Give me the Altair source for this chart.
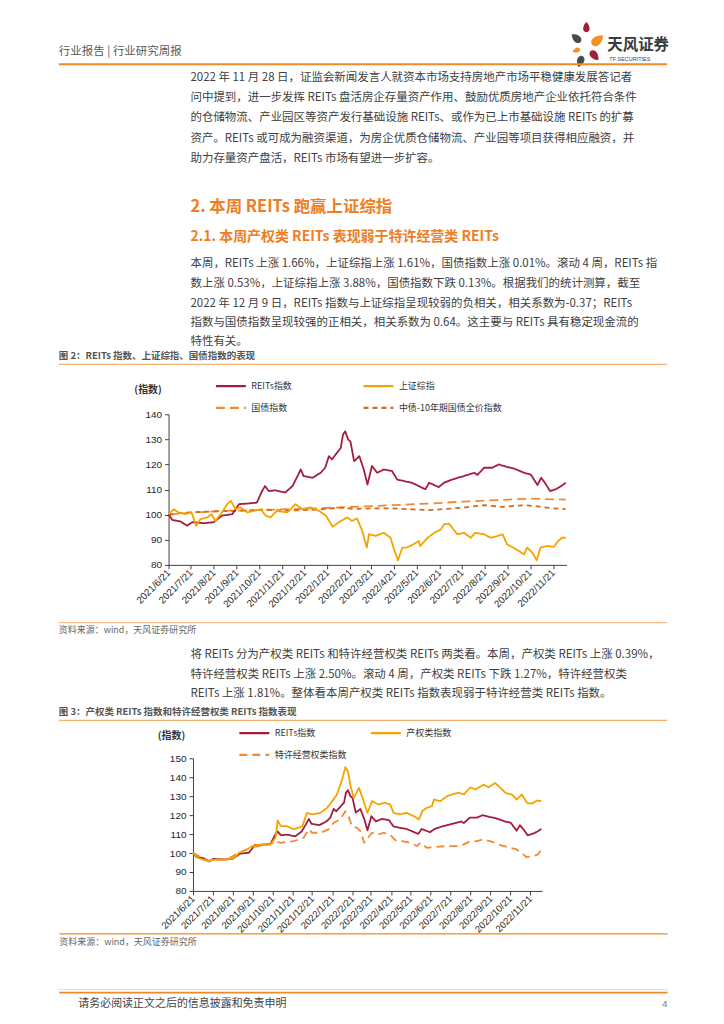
import altair as alt
import pandas as pd
from datetime import date

CJK = "Noto Sans CJK SC"
LAT = "Liberation Sans"
BODY = "#404040"
ORANGE = "#EF7D21"
RULE = "#F0892A"
LIGHT = "#F6B070"

# ---------------- data ----------------
reits_dates = ["2021-06-21","2021-06-26","2021-07-07","2021-07-16","2021-07-23","2021-08-08","2021-08-21",
               "2021-09-01","2021-09-15","2021-09-24","2021-10-05","2021-10-18","2021-10-25","2021-10-29",
               "2021-11-03","2021-11-12","2021-11-25","2021-12-05","2021-12-14","2021-12-16","2021-12-20",
               "2022-01-01","2022-01-12","2022-01-18","2022-01-23","2022-01-27","2022-02-08","2022-02-11",
               "2022-02-14","2022-02-18","2022-02-21","2022-02-26","2022-03-05","2022-03-11","2022-03-16",
               "2022-03-22","2022-03-29","2022-04-07","2022-04-18","2022-04-25","2022-05-04","2022-05-15",
               "2022-05-24","2022-06-02","2022-06-07","2022-06-20","2022-06-27","2022-07-08","2022-07-24",
               "2022-08-07","2022-08-11","2022-08-20","2022-08-31","2022-09-09","2022-09-20","2022-09-29",
               "2022-10-13","2022-10-22","2022-10-31","2022-11-05","2022-11-10","2022-11-17","2022-11-26",
               "2022-12-02","2022-12-08"]
reits_vals = [100.2,97.9,97.3,95.6,97.0,96.6,97.0,99.6,100.2,104.2,104.4,104.8,109.4,111.4,109.4,109.7,108.8,
              111.4,116.7,118.0,115.4,114.7,116.7,118.7,123.3,122.0,126.6,131.9,133.2,129.9,129.2,121.3,123.3,
              118.0,112.0,119.4,116.7,118.0,117.4,114.0,113.4,112.7,111.4,110.1,112.7,111.0,112.7,114.0,115.4,
              116.7,115.8,118.7,118.7,120.0,119.0,118.4,116.7,116.0,111.8,114.7,112.7,109.4,110.3,111.4,112.7]

sh_dates = ["2021-06-21","2021-06-28","2021-07-04","2021-07-13","2021-07-22","2021-07-28","2021-08-03",
            "2021-08-12","2021-08-18","2021-08-23","2021-09-01","2021-09-08","2021-09-13","2021-09-19",
            "2021-09-26","2021-10-05","2021-10-14","2021-10-23","2021-10-30","2021-11-05","2021-11-14",
            "2021-11-28","2021-12-09","2021-12-18","2021-12-29","2022-01-10","2022-01-19","2022-01-28",
            "2022-02-08","2022-02-17","2022-02-23","2022-03-02","2022-03-09","2022-03-15","2022-03-18",
            "2022-03-27","2022-04-07","2022-04-16","2022-04-20","2022-04-26","2022-05-02","2022-05-08",
            "2022-05-17","2022-05-24","2022-05-26","2022-06-05","2022-06-14","2022-06-23","2022-06-27",
            "2022-07-04","2022-07-08","2022-07-15","2022-07-24","2022-08-02","2022-08-08","2022-08-20",
            "2022-08-29","2022-09-07","2022-09-14","2022-09-20","2022-10-02","2022-10-13","2022-10-17",
            "2022-10-24","2022-10-30","2022-11-04","2022-11-13","2022-11-22","2022-11-28","2022-12-03",
            "2022-12-08"]
sh_vals = [100.2,102.2,100.9,100.2,100.9,95.6,98.2,98.9,100.2,97.5,100.9,104.2,105.5,102.2,102.9,100.9,101.5,
           102.2,99.6,98.9,101.5,100.9,104.2,102.2,102.9,101.5,99.6,95.2,97.5,98.9,97.5,98.5,93.5,86.9,92.2,
           91.5,92.8,90.8,86.9,81.8,86.9,86.9,88.2,89.5,87.5,90.8,92.8,94.1,96.2,96.4,94.8,92.2,92.8,90.8,
           92.8,92.2,90.8,91.5,92.2,88.2,86.2,84.2,86.9,84.9,81.8,86.9,87.5,87.2,89.5,90.8,90.8]

gz_dates = ["2021-06-21","2021-07-21","2021-09-05","2021-12-18","2022-03-05","2022-04-20","2022-06-05",
            "2022-07-23","2022-09-07","2022-10-21","2022-12-08"]
gz_vals = [100.0,100.8,101.5,102.3,103.2,103.8,104.4,105.2,105.8,106.4,106.0]

zz_dates = ["2021-06-21","2021-07-11","2021-08-20","2021-09-28","2021-10-29","2021-11-28","2022-01-07",
            "2022-02-06","2022-02-26","2022-03-23","2022-04-17","2022-05-17","2022-06-06","2022-07-01",
            "2022-07-26","2022-08-20","2022-09-14","2022-10-14","2022-11-03","2022-11-18","2022-12-08"]
zz_vals = [100.0,100.8,101.3,101.6,102.0,101.6,102.0,102.8,102.3,102.5,102.5,102.1,101.8,102.3,102.9,103.8,
           103.1,103.8,103.2,102.6,102.2]

cq_dates = ["2021-06-21","2021-06-28","2021-07-13","2021-07-28","2021-08-12","2021-08-23","2021-08-31",
            "2021-09-12","2021-09-20","2021-10-03","2021-10-18","2021-10-26","2021-10-29","2021-11-03",
            "2021-11-12","2021-11-23","2021-12-06","2021-12-13","2021-12-21","2022-01-03","2022-01-13",
            "2022-01-21","2022-01-28","2022-02-05","2022-02-10","2022-02-14","2022-02-18","2022-02-23",
            "2022-03-03","2022-03-10","2022-03-16","2022-03-23","2022-04-02","2022-04-12","2022-04-20",
            "2022-04-25","2022-05-05","2022-05-15","2022-05-26","2022-06-03","2022-06-08","2022-06-15",
            "2022-06-23","2022-06-26","2022-07-06","2022-07-16","2022-07-24","2022-08-03","2022-08-11",
            "2022-08-21","2022-08-29","2022-09-10","2022-09-18","2022-09-28","2022-10-06","2022-10-14",
            "2022-10-24","2022-10-31","2022-11-08","2022-11-16","2022-11-23","2022-12-01","2022-12-08"]
cq_vals = [100.2,97.5,95.8,96.7,96.5,97.5,100.2,101.9,103.7,104.6,104.6,108.1,117.2,114.2,114.2,112.5,114.2,
           121.2,120.4,121.2,123.9,127.4,130.9,138.8,145.3,143.2,135.3,129.1,134.4,127.4,121.2,127.4,125.6,
           126.5,125.6,121.2,120.4,121.2,119.5,117.7,122.1,123.9,124.7,128.2,127.4,130.0,130.9,131.8,130.9,
           134.7,133.5,136.1,134.7,137.0,134.4,131.8,130.9,128.2,130.9,126.5,126.0,127.7,127.4]

tx_dates = ["2021-06-21","2021-07-13","2021-08-12","2021-08-31","2021-09-20","2021-10-18","2021-10-26",
            "2021-11-02","2021-11-23","2021-12-08","2021-12-16","2021-12-21","2022-01-03","2022-01-15",
            "2022-01-23","2022-02-02","2022-02-10","2022-02-15","2022-02-20","2022-02-28","2022-03-05",
            "2022-03-11","2022-03-19","2022-03-23","2022-04-02","2022-04-10","2022-04-20","2022-04-28",
            "2022-05-08","2022-05-21","2022-05-31","2022-06-05","2022-06-15","2022-06-30","2022-07-16",
            "2022-08-03","2022-08-11","2022-08-21","2022-08-31","2022-09-10","2022-09-23","2022-10-06",
            "2022-10-21","2022-10-31","2022-11-10","2022-11-15","2022-11-26","2022-12-03","2022-12-08"]
tx_vals = [100.2,95.8,96.7,100.2,103.2,104.6,106.3,105.4,106.3,108.1,112.5,110.7,110.7,112.5,116.0,117.7,
           122.1,119.5,114.2,113.3,111.6,105.4,109.0,110.7,109.8,110.7,109.5,106.7,106.3,105.4,103.7,105.4,
           102.8,103.2,103.7,103.7,104.6,106.3,106.3,107.2,106.0,104.2,102.8,101.9,99.3,97.9,98.4,99.3,101.9]

tick_dates = ["2021-06-21","2021-07-21","2021-08-21","2021-09-21","2021-10-21","2021-11-21","2021-12-21",
              "2022-01-21","2022-02-21","2022-03-21","2022-04-21","2022-05-21","2022-06-21","2022-07-21",
              "2022-08-21","2022-09-21","2022-10-21","2022-11-21"]
x_domain = ["2021-06-21", "2022-12-09"]
y1_ticks = [80, 90, 100, 110, 120, 130, 140]
y2_ticks = [80, 90, 100, 110, 120, 130, 140, 150]

# legend order (entries fill the legend column by column)
names1 = ["REITs指数", "国债指数", "上证综指", "中债-10年期国债全价指数"]
colors1 = ["#A31D3D", "#F28A30", "#F5A300", "#D5691F"]
dashes1 = [[1, 0], [9, 5], [1, 0], [5, 4]]
names2 = ["REITs指数", "特许经营权类指数", "产权类指数"]
colors2 = ["#A31D3D", "#F28A30", "#F5A300"]
dashes2 = [[1, 0], [8, 5], [1, 0]]

para1 = ["2022 年 11 月 28 日，证监会新闻发言人就资本市场支持房地产市场平稳健康发展答记者",
         "问中提到，进一步发挥 REITs 盘活房企存量资产作用、鼓励优质房地产企业依托符合条件",
         "的仓储物流、产业园区等资产发行基础设施 REITs、或作为已上市基础设施 REITs 的扩募",
         "资产。REITs 或可成为融资渠道，为房企优质仓储物流、产业园等项目获得相应融资，并",
         "助力存量资产盘活，REITs 市场有望进一步扩容。"]
para2 = ["本周，REITs 上涨 1.66%，上证综指上涨 1.61%，国债指数上涨 0.01%。滚动 4 周，REITs 指",
         "数上涨 0.53%，上证综指上涨 3.88%，国债指数下跌 0.13%。根据我们的统计测算，截至",
         "2022 年 12 月 9 日，REITs 指数与上证综指呈现较弱的负相关，相关系数为-0.37；REITs",
         "指数与国债指数呈现较强的正相关，相关系数为 0.64。这主要与 REITs 具有稳定现金流的",
         "特性有关。"]
para3 = ["将 REITs 分为产权类 REITs 和特许经营权类 REITs 两类看。本周，产权类 REITs 上涨 0.39%，",
         "特许经营权类 REITs 上涨 2.50%。滚动 4 周，产权类 REITs 下跌 1.27%，特许经营权类",
         "REITs 上涨 1.81%。整体看本周产权类 REITs 指数表现弱于特许经营类 REITs 指数。"]


def dt(s):
    d = date.fromisoformat(s)
    return alt.DateTime(year=d.year, month=d.month, date=d.day, utc=True)


def long_df(names, pairs):
    frames = [pd.DataFrame({"date": d, "value": v, "series": n}) for n, (d, v) in zip(names, pairs)]
    return pd.concat(frames, ignore_index=True)


# data order = drawing order (later series on top)
df1 = long_df(["国债指数", "中债-10年期国债全价指数", "REITs指数", "上证综指"],
              [(gz_dates, gz_vals), (zz_dates, zz_vals), (reits_dates, reits_vals), (sh_dates, sh_vals)])
df2 = long_df(["REITs指数", "特许经营权类指数", "产权类指数"],
              [(reits_dates, reits_vals), (tx_dates, tx_vals), (cq_dates, cq_vals)])

DUMMY = pd.DataFrame({"k": [0]})
BODY_FS = 11.5


def txt(x, y, s, size=BODY_FS, color=BODY, weight="normal", font=CJK, align="left"):
    return alt.Chart(DUMMY).mark_text(text=s, fontSize=size, color=color, fontWeight=weight, font=font,
                                      align=align, baseline="middle").encode(x=alt.value(x), y=alt.value(y))


def hline(x1, x2, y, color, w):
    return alt.Chart(DUMMY).mark_rule(color=color, strokeWidth=w).encode(
        x=alt.value(x1), x2=alt.value(x2), y=alt.value(y), y2=alt.value(y))


PETAL = "M0,-1C0.6,-0.4 0.75,0.35 0.4,0.72C0.15,0.98 -0.15,0.98 -0.4,0.72C-0.75,0.35 -0.6,-0.4 0,-1Z"


def petal(x, y, color, size, angle):
    return alt.Chart(DUMMY).mark_point(shape=PETAL, filled=True, color=color, size=size, angle=angle,
                                       opacity=1, strokeWidth=0).encode(x=alt.value(x), y=alt.value(y))


def line_chart(df, names, colors, dashes, ydom, yticks, w, h, legend_pos, col_pad, row_pad, title_pos, xfs):
    leg = alt.Legend(orient="none", legendX=legend_pos[0], legendY=legend_pos[1], columns=2,
                     columnPadding=col_pad, rowPadding=row_pad, symbolType="stroke", symbolSize=900,
                     symbolStrokeWidth=2.2, labelFont=CJK, labelFontSize=9, labelColor="#333333",
                     labelOffset=4, title=None, padding=0)
    return alt.Chart(df).mark_line(strokeWidth=1.8, strokeJoin="round").encode(
        x=alt.X("date:T", title=None,
                scale=alt.Scale(type="utc", domain=[dt(x_domain[0]), dt(x_domain[1])]),
                axis=alt.Axis(values=[dt(s) for s in tick_dates],
                              labelExpr="utcFormat(datum.value, '%Y/%-m/%d')",
                              labelAngle=-45, labelAlign="right", labelBaseline="middle",
                              labelOverlap=False, labelFlush=False, labelPadding=2, labelFontSize=xfs)),
        y=alt.Y("value:Q", scale=alt.Scale(domain=ydom, nice=False, zero=False),
                axis=alt.Axis(values=yticks, title="(指数)", titleAngle=0, titleX=title_pos[0],
                              titleY=title_pos[1], titleAlign="center", titleBaseline="middle",
                              titleFont=CJK, titleFontSize=10, titleFontWeight="bold", titleColor="#333333",
                              labelFlush=False, labelPadding=3, labelFontSize=10)),
        color=alt.Color("series:N", scale=alt.Scale(domain=names, range=colors), legend=leg),
        strokeDash=alt.StrokeDash("series:N", scale=alt.Scale(domain=names, range=dashes), legend=leg),
    ).properties(width=w, height=h)


lines1 = line_chart(df1, names1, colors1, dashes1, [80, 140], y1_ticks, 399, 151,
                    (46, -45), 67, -7, (-21, -25), 9.8)
lines2 = line_chart(df2, names2, colors2, dashes2, [80, 150], y2_ticks, 350, 133,
                    (45, -42), 19, -9, (-22, -23), 9.6)

# ---------------- page text, relative to chart 1 plot origin ----------------
L1 = -110          # left page margin relative to chart 1
R1 = 500           # right page margin relative to chart 1
XP = 22            # paragraph indent
a = [
    # white page-frame edges (keep the page anchored at the top-left / bottom-right corners)
    hline(-160, 548, -405, "#FFFFFF", 0.5),
    hline(-160, 548, 603, "#FFFFFF", 0.5),
    txt(L1, -363, "行业报告 | 行业研究周报", size=11.5, color="#595959"),
    petal(419, -388, "#A0203C", 120, 0),
    petal(430, -375, "#F39221", 230, 50),
    petal(409, -377, "#4A4A4A", 150, 310),
    petal(409, -365, "#F39221", 70, 250),
    petal(427, -360, "#A0203C", 160, 140),
    petal(413, -354, "#4A4A4A", 150, 200),
    txt(440, -370, "天风证券", size=15.5, color="#3A3A3A", weight="bold"),
    txt(442, -356, "TF SECURITIES", size=5.5, color="#444444", font=LAT),
    hline(L1, R1, -351, RULE, 2.2),
]
for yy, s in zip([-337, -317, -297, -276, -256], para1):
    a.append(txt(XP, yy, s))
a.append(txt(XP, -208, "2. 本周 REITs 跑赢上证综指", size=16.5, color=ORANGE, weight="bold"))
a.append(txt(XP, -178, "2.1. 本周产权类 REITs 表现弱于特许经营类 REITs", size=14, color=ORANGE, weight="bold"))
for yy, s in zip([-151, -131, -111, -92, -72], para2):
    a.append(txt(XP, yy, s))
a.append(txt(L1, -58, "图 2：REITs 指数、上证综指、国债指数的表现", size=9.5, color="#555555", weight="bold"))
a.append(hline(L1, R1, -50, LIGHT, 1.3))
a.append(hline(L1, R1, 209, LIGHT, 1.0))
a.append(txt(L1, 216, "资料来源：wind，天风证券研究所", size=9, color="#666666"))
for yy, s in zip([241, 261, 281], para3):
    a.append(txt(XP, yy, s))
a.append(txt(L1, 299, "图 3：产权类 REITs 指数和特许经营权类 REITs 指数表现", size=9.5, color="#555555", weight="bold"))
a.append(hline(L1, R1, 307, LIGHT, 1.3))
chartA = alt.layer(*a[:2], lines1, *a[2:])

# ---------------- page text, relative to chart 2 plot origin ----------------
L2 = -134
R2 = 476
b = [hline(L2, R2, 176, RULE, 1.2),
     txt(L2, 184, "资料来源：wind，天风证券研究所", size=9, color="#666666"),
     hline(L2, R2, 232, "#F9D2A6", 1.0),
     hline(L2, R2, 235, RULE, 1.8),
     txt(-115, 246, "请务必阅读正文之后的信息披露和免责申明", size=11, color="#444444"),
     txt(R2, 246, "4", size=10, color="#777777", font=LAT, align="right")]
chartB = alt.layer(lines2, *b)

chart = alt.vconcat(chartA, chartB, spacing=194, bounds="flush", center=True).resolve_scale(
    color="independent", strokeDash="independent"
).resolve_legend(color="independent", strokeDash="independent").properties(
    padding=0
).configure_view(stroke=None).configure_axis(
    labelFont=LAT, labelColor="#262626", domainColor="#404040", tickColor="#404040",
    tickSize=4, grid=False, domainWidth=1
)

chart.save("out.html", embed_options={"renderer": "svg", "actions": False})
